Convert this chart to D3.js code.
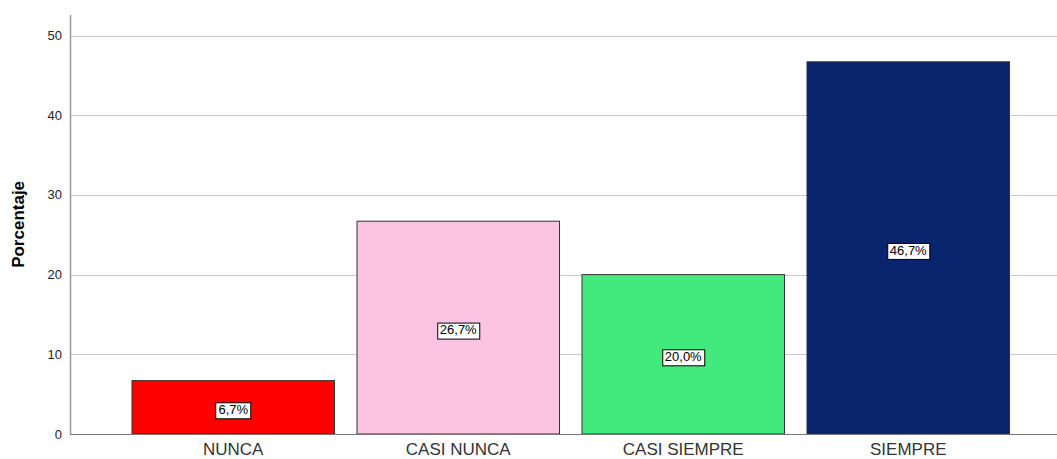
<!DOCTYPE html>
<html>
<head>
<meta charset="utf-8">
<script src="https://cdn.jsdelivr.net/npm/d3@7"></script>
<style>
  body { margin: 0; background: #fff; overflow: hidden; }
  text { font-family: "Liberation Sans", Arial, sans-serif; }
</style>
</head>
<body>
<div id="chart"></div>
<script>
(function () {

  // Data
  const categories = ["NUNCA", "CASI NUNCA", "CASI SIEMPRE", "SIEMPRE"]
  const values = [6.7, 26.7, 20.0, 46.7]
  const colors = ["#ff0000", "#fdc3e3", "#42e97d", "#0a246e"]
  const yTicks = [0, 10, 20, 30, 40, 50]

  const W = 1057, H = 459
  const margin = { top: 15, right: 0, bottom: 25, left: 70 }

  const svg = d3.select("#chart").append("svg")
    .attr("width", W)
    .attr("height", H)
    .style("display", "block")

  // Scales
  const x = d3.scaleBand()
    .domain(categories)
    .range([120.75, 1020.75])
    .paddingInner(0.1)
    .paddingOuter(0.05)

  const y = d3.scaleLinear()
    .domain([0, 50])
    .range([434, 35.5])

  // Gridlines
  svg.selectAll(".grid")
    .data(yTicks)
    .join("line")
    .attr("x1", margin.left)
    .attr("x2", W)
    .attr("y1", d => Math.round(y(d)) + 0.5)
    .attr("y2", d => Math.round(y(d)) + 0.5)
    .attr("stroke", "#c8c8c8")
    .attr("stroke-width", 1)

  // Y axis line
  svg.append("line")
    .attr("x1", margin.left + 0.5)
    .attr("x2", margin.left + 0.5)
    .attr("y1", margin.top)
    .attr("y2", 434.5)
    .attr("stroke", "#999")
    .attr("stroke-width", 1.5)

  // Y tick labels
  svg.selectAll(".ytick")
    .data(yTicks)
    .join("text")
    .attr("x", 62)
    .attr("y", d => y(d))
    .attr("dy", "0.35em")
    .attr("text-anchor", "end")
    .attr("font-size", 13)
    .attr("fill", "#222")
    .text(d => d)

  // Y axis title
  svg.append("text")
    .attr("transform", "translate(24," + y(26.3) + ") rotate(-90)")
    .attr("text-anchor", "middle")
    .attr("font-size", 17)
    .attr("font-weight", "bold")
    .attr("fill", "#000")
    .text("Porcentaje")

  // Bars
  svg.selectAll(".bar")
    .data(values)
    .join("rect")
    .attr("x", (d, i) => x(categories[i]))
    .attr("y", d => y(d))
    .attr("width", x.bandwidth())
    .attr("height", d => y(0) - y(d))
    .attr("fill", (d, i) => colors[i])
    .attr("stroke", "#333")
    .attr("stroke-width", 1)

  // Baseline
  svg.append("line")
    .attr("x1", margin.left)
    .attr("x2", W)
    .attr("y1", 434.5)
    .attr("y2", 434.5)
    .attr("stroke", "#777")

  // Value labels
  const labels = svg.selectAll(".vlab")
    .data(values)
    .join("g")
    .attr("transform", (d, i) =>
      "translate(" + (x(categories[i]) + x.bandwidth() / 2) + "," + ((y(d) + y(0)) / 2 + 2) + ")")

  labels.append("text")
    .attr("text-anchor", "middle")
    .attr("dy", "0.36em")
    .attr("font-size", 13)
    .attr("fill", "#000")
    .text(d => d.toFixed(1).replace(".", ",") + "%")

  labels.each(function () {
    const g = d3.select(this)
    const bb = g.select("text").node().getBBox()
    g.insert("rect", "text")
      .attr("x", Math.round(bb.x) - 2.5)
      .attr("y", Math.round(bb.y) + 0.5)
      .attr("width", Math.round(bb.width) + 5)
      .attr("height", Math.round(bb.height) + 1)
      .attr("fill", "#fff")
      .attr("stroke", "#000")
      .attr("stroke-width", 1)
  })

  // X labels
  svg.selectAll(".xlab")
    .data(categories)
    .join("text")
    .attr("x", d => x(d) + x.bandwidth() / 2)
    .attr("y", 455)
    .attr("text-anchor", "middle")
    .attr("font-size", 17)
    .attr("fill", "#333")
    .text(d => d)

})();
</script>
</body>
</html>
